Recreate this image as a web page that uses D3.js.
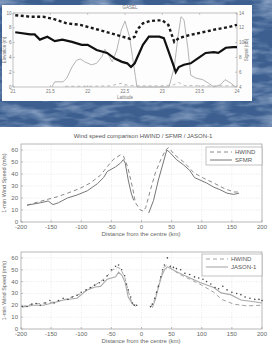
<!DOCTYPE html>
<html>
<head>
<meta charset="utf-8">
<script src="https://cdn.jsdelivr.net/npm/d3@7"></script>
<style>
  body { margin: 0; background: #fff; }
  svg { display: block; font-family: "Liberation Sans", Arial, sans-serif; }
</style>
</head>
<body>
<div id="chart"></div>
<script>
// ---- top panel (altimeter track) ----
const topTitle = "GASEL";
const latTicks = [21, 21.5, 22, 22.5, 23, 23.5, 24];
const elevTicks = [0, 2, 4, 6, 8, 10];
const sigTicks = [4, 6, 8, 10, 12, 14];

// thick solid black
const elevLat = [21.03, 21.23, 21.29, 21.36, 21.46, 21.56, 21.66, 21.79, 21.92, 22.0, 22.12, 22.26, 22.37, 22.46, 22.53, 22.58, 22.63, 22.74, 22.82, 22.96, 23.02, 23.09, 23.14, 23.18, 23.22, 23.29, 23.38, 23.48, 23.58, 23.69, 23.75, 23.85, 23.95, 24.0];
const elevVal = [7.4, 7.1, 7.1, 6.4, 6.8, 6.2, 6.4, 6.1, 5.7, 5.7, 5.0, 4.6, 3.8, 3.4, 3.2, 2.7, 3.2, 5.7, 6.8, 6.8, 6.6, 4.6, 3.2, 2.0, 2.7, 3.0, 3.2, 3.9, 4.6, 4.7, 4.6, 5.3, 5.4, 5.4];

// thick dashed black
const dashLat = [21.03, 21.23, 21.4, 21.54, 21.72, 21.9, 22.12, 22.3, 22.43, 22.57, 22.63, 22.66, 22.74, 22.83, 22.93, 23.0, 23.08, 23.16, 23.22, 23.36, 23.54, 23.72, 23.89, 24.0];
const dashVal = [9.7, 9.5, 9.5, 9.2, 8.6, 8.4, 7.8, 7.3, 6.9, 6.5, 6.8, 7.7, 8.6, 8.9, 9.0, 9.0, 8.4, 6.1, 6.6, 7.0, 7.4, 7.8, 8.1, 8.4];

// thin grey signal
const sigLat = [21.52, 21.56, 21.67, 21.72, 21.79, 21.85, 21.9, 21.96, 22.05, 22.12, 22.19, 22.23, 22.28, 22.33, 22.39, 22.45, 22.5, 22.56, 22.6, 22.64, 22.66, 23.09, 23.16, 23.21, 23.25, 23.29, 23.34, 23.38, 23.45, 23.54, 23.62, 23.69, 23.78, 23.84, 23.92, 23.98];
const sigVal = [0, 0.7, 0.7, 1.2, 2.7, 3.6, 3.8, 3.4, 3.0, 3.2, 4.1, 5.1, 4.3, 3.4, 5.0, 7.7, 8.9, 6.8, 4.1, 1.4, 0, 0, 2.7, 6.8, 9.5, 9.1, 5.4, 1.6, 1.2, 1.0, 0.5, 0, 0.3, 1.0, 0.5, 0];

// thin grey dashed near zero
const lowLat = [21.7, 22.0, 22.3, 22.45, 22.55, 22.7, 23.0, 23.15, 23.22, 23.3, 23.6, 24.0];
const lowVal = [0.1, 0.1, 0.15, 0.5, 0.2, 0.15, 0.15, 0.3, 0.6, 0.2, 0.15, 0.15];

// ---- lower panels (wind speed profiles) ----
const distTicks = [-200, -150, -100, -50, 0, 50, 100, 150, 200];
const speedTicks = [0, 10, 20, 30, 40, 50, 60];

const hwindA = [
  [-190, 14], [-173, 16.5], [-155, 19], [-140, 21], [-123, 24], [-102, 28], [-85, 32.5], [-68, 39], [-57, 46], [-47, 52], [-35, 56], [-30, 55],
  [-23, 46], [-15, 29], [-10, 16], [-2, 10], [3, 9], [7, 12], [15, 27], [23, 41], [32, 52], [40, 60], [45, 62], [55, 56], [70, 50], [87, 41], [103, 36.5], [120, 32.5], [137, 28], [153, 25], [162, 25]
];
const sfmr = [
  [-190, 14], [-168, 16], [-155, 17.5], [-147, 14.5], [-138, 16], [-123, 20], [-107, 22.5], [-90, 26], [-73, 32], [-63, 37], [-57, 42], [-43, 46], [-35, 49], [-30, 52], [-27, 49], [-22, 35], [-17, 24], [-13, 18],
  null,
  [12, 7.5], [20, 18], [28, 35], [35, 47.5], [42, 60], [47, 58], [58, 52], [70, 47.5], [80, 43], [88, 37], [97, 35], [108, 32.5], [120, 29], [130, 27], [142, 24], [153, 23], [162, 24]
];

const hwindB = [
  [-198, 19], [-180, 21], [-160, 22], [-140, 23], [-120, 26], [-100, 30], [-80, 36], [-60, 43], [-48, 50], [-40, 52], [-35, 51], [-28, 44], [-22, 32], [-16, 22], [-10, 19],
  null,
  [15, 18], [22, 25], [30, 40], [37, 52], [42, 54], [50, 51], [60, 47], [80, 42], [100, 37], [120, 31], [133, 25], [153, 21], [175, 19.5], [197, 20]
];
const jason = [
  [-198, 18.5], [-180, 20], [-163, 20], [-148, 22], [-130, 24.5], [-107, 26], [-90, 33], [-77, 35.5], [-68, 36], [-57, 42], [-43, 44], [-38, 48], [-32, 45], [-27, 39], [-22, 27], [-15, 21], [-10, 20],
  null,
  [18, 18], [23, 25], [28, 35], [33, 44], [38, 50], [43, 52.5], [60, 48], [77, 44], [98, 39], [120, 35], [132, 30.5], [148, 29], [165, 24.5], [187, 23], [200, 22]
];
const altDots = [
  [-198, 19], [-190, 19], [-182, 21], [-175, 21.5], [-168, 20], [-160, 22], [-152, 24], [-145, 22], [-138, 24], [-130, 26], [-122, 25], [-115, 27], [-107, 28.5], [-100, 31], [-92, 33], [-85, 35], [-78, 37], [-70, 39], [-63, 41], [-57, 45], [-50, 50], [-43, 53], [-38, 54], [-33, 50], [-28, 45], [-25, 38], [-22, 33], [-18, 27], [-15, 22], [-12, 20], [-8, 20],
  [15, 19], [18, 21], [22, 26], [25, 31], [28, 36], [32, 44], [35, 50], [38, 54], [43, 60], [48, 53], [53, 52], [58, 51], [65, 50], [72, 47], [80, 46], [88, 44], [95, 43], [102, 42], [108, 40], [115, 38], [122, 35], [128, 34], [135, 36], [142, 33], [150, 31], [158, 30], [165, 29], [172, 27], [180, 26], [188, 25], [195, 25], [200, 24]
];

const W = 272, H = 345;
const svg = d3.select("#chart").append("svg").attr("width", W).attr("height", H);

// blue slide background with a streaky texture
const defs = svg.append("defs");
const f = defs.append("filter").attr("id", "streak").attr("x", 0).attr("y", 0).attr("width", 1).attr("height", 1);
f.append("feTurbulence").attr("type", "fractalNoise").attr("baseFrequency", "0.035 0.12").attr("numOctaves", 3).attr("seed", 4);
f.append("feColorMatrix").attr("type", "matrix")
  .attr("values", "0 0 0 0 0.8  0 0 0 0 0.88  0 0 0 0 1  1.1 0 0 0 -0.45");
svg.append("rect").attr("width", W).attr("height", 127).attr("fill", "#3c5f90");
svg.append("rect").attr("width", W).attr("height", 127).attr("filter", "url(#streak)");

// ---- top panel ----
svg.append("rect").attr("x", 2).attr("y", 5).attr("width", 250).attr("height", 96).attr("fill", "#fdfdfd");
const tx = d3.scaleLinear().domain([21, 24]).range([13, 237]);
const ty = d3.scaleLinear().domain([0, 10]).range([87, 13]);
const ty2 = d3.scaleLinear().domain([4, 14]).range([87, 13]);
const topG = svg.append("g");

topG.append("rect").attr("x", 13).attr("y", 13).attr("width", 224).attr("height", 74)
  .attr("fill", "none").attr("stroke", "#999").attr("stroke-width", 0.6);
latTicks.forEach(t => {
  topG.append("line").attr("x1", tx(t)).attr("x2", tx(t)).attr("y1", 87).attr("y2", 85).attr("stroke", "#999").attr("stroke-width", 0.5);
  topG.append("line").attr("x1", tx(t)).attr("x2", tx(t)).attr("y1", 13).attr("y2", 15).attr("stroke", "#999").attr("stroke-width", 0.5);
  topG.append("text").attr("x", tx(t)).attr("y", 93).attr("text-anchor", "middle")
    .attr("font-size", 4.5).attr("fill", "#777").text(t);
});
elevTicks.forEach(t => {
  topG.append("line").attr("x1", 13).attr("x2", 15).attr("y1", ty(t)).attr("y2", ty(t)).attr("stroke", "#999").attr("stroke-width", 0.5);
  topG.append("text").attr("x", 11.5).attr("y", ty(t) + 1.5).attr("text-anchor", "end")
    .attr("font-size", 4.5).attr("fill", "#777").text(t);
});
sigTicks.forEach(t => {
  topG.append("line").attr("x1", 235).attr("x2", 237).attr("y1", ty2(t)).attr("y2", ty2(t)).attr("stroke", "#999").attr("stroke-width", 0.5);
  topG.append("text").attr("x", 239).attr("y", ty2(t) + 1.5)
    .attr("font-size", 4.5).attr("fill", "#777").text(t);
});
topG.append("text").attr("x", 130).attr("y", 8.5).attr("text-anchor", "middle").attr("font-size", 4.5).attr("fill", "#777").text(topTitle);
topG.append("text").attr("x", 125).attr("y", 99).attr("text-anchor", "middle").attr("font-size", 4.5).attr("fill", "#777").text("Latitude");
topG.append("text").attr("transform", "translate(5.5,50) rotate(-90)").attr("text-anchor", "middle").attr("font-size", 4.5).attr("fill", "#777").text("Elevation (m)");
topG.append("text").attr("transform", "translate(248,50) rotate(-90)").attr("text-anchor", "middle").attr("font-size", 4.5).attr("fill", "#777").text("Signal (dB)");

const topLine = d3.line().x(d => tx(d[0])).y(d => ty(d[1]));
topG.append("path").datum(d3.zip(sigLat, sigVal)).attr("d", topLine)
  .attr("fill", "none").attr("stroke", "#b4b4b4").attr("stroke-width", 1);
topG.append("path").datum(d3.zip(lowLat, lowVal)).attr("d", topLine)
  .attr("fill", "none").attr("stroke", "#aaa").attr("stroke-width", 0.8).attr("stroke-dasharray", "3,3");
topG.append("path").datum(d3.zip(dashLat, dashVal)).attr("d", topLine)
  .attr("fill", "none").attr("stroke", "#1a1a1a").attr("stroke-width", 2.4).attr("stroke-dasharray", "3,2.5");
topG.append("path").datum(d3.zip(elevLat, elevVal)).attr("d", topLine)
  .attr("fill", "none").attr("stroke", "#111").attr("stroke-width", 2.2);

// ---- wind speed panels ----
function windPanel(g, y0, y1, title, series, legend, dots) {
  const x = d3.scaleLinear().domain([-200, 200]).range([21, 262]);
  const y = d3.scaleLinear().domain([0, 65]).range([y1, y0]);
  const grid = "#d4d4d4";

  distTicks.forEach(t => {
    if (t > -200 && t < 200)
      g.append("line").attr("x1", x(t)).attr("x2", x(t)).attr("y1", y0).attr("y2", y1)
        .attr("stroke", grid).attr("stroke-width", 0.5).attr("stroke-dasharray", "1,1.5");
    g.append("line").attr("x1", x(t)).attr("x2", x(t)).attr("y1", y1).attr("y2", y1 - 2).attr("stroke", "#888").attr("stroke-width", 0.5);
    g.append("text").attr("x", x(t)).attr("y", y1 + 6.5).attr("text-anchor", "middle")
      .attr("font-size", 6).attr("fill", "#666").text(t);
  });
  speedTicks.forEach(t => {
    if (t > 0)
      g.append("line").attr("x1", x(-200)).attr("x2", x(200)).attr("y1", y(t)).attr("y2", y(t))
        .attr("stroke", grid).attr("stroke-width", 0.5).attr("stroke-dasharray", "1,1.5");
    g.append("line").attr("x1", x(-200)).attr("x2", x(-200) + 2).attr("y1", y(t)).attr("y2", y(t)).attr("stroke", "#888").attr("stroke-width", 0.5);
    g.append("text").attr("x", 18).attr("y", y(t) + 2).attr("text-anchor", "end")
      .attr("font-size", 6).attr("fill", "#666").text(t);
  });
  g.append("rect").attr("x", x(-200)).attr("y", y0).attr("width", x(200) - x(-200)).attr("height", y1 - y0)
    .attr("fill", "none").attr("stroke", "#999").attr("stroke-width", 0.7);

  if (title)
    g.append("text").attr("x", 143).attr("y", y0 - 6).attr("text-anchor", "middle")
      .attr("font-size", 6).attr("fill", "#555").text(title);
  g.append("text").attr("x", 141).attr("y", y1 + 14).attr("text-anchor", "middle")
    .attr("font-size", 6).attr("fill", "#666").text("Distance from the centre (km)");
  g.append("text").attr("transform", `translate(6,${(y0 + y1) / 2}) rotate(-90)`).attr("text-anchor", "middle")
    .attr("font-size", 5.5).attr("fill", "#666").text("1-min Wind Speed (m/s)");

  const line = d3.line().defined(d => d !== null).x(d => x(d[0])).y(d => y(d[1]));
  series.forEach(s => {
    g.append("path").datum(s.data).attr("d", line).attr("fill", "none")
      .attr("stroke", s.color).attr("stroke-width", s.width).attr("stroke-dasharray", s.dash);
  });
  if (dots) {
    g.append("g").selectAll("circle").data(dots).join("circle")
      .attr("cx", d => x(d[0])).attr("cy", d => y(d[1])).attr("r", 0.8).attr("fill", "#444");
  }

  const lg = g.append("g");
  lg.append("rect").attr("x", legend.x).attr("y", legend.y).attr("width", legend.w).attr("height", legend.h)
    .attr("fill", "#fff").attr("stroke", "#999").attr("stroke-width", 0.6);
  series.forEach((s, i) => {
    const ly = legend.y + 5 + i * 8;
    lg.append("line").attr("x1", legend.x + 4).attr("x2", legend.x + 26).attr("y1", ly).attr("y2", ly)
      .attr("stroke", s.color).attr("stroke-width", s.width).attr("stroke-dasharray", s.dash);
    lg.append("text").attr("x", legend.x + 29).attr("y", ly + 2).attr("font-size", 6).attr("fill", "#555").text(s.name);
  });
}

windPanel(svg.append("g"), 144, 222, "Wind speed comparison HWIND / SFMR / JASON-1",
  [
    { name: "HWIND", data: hwindA, color: "#8a8a8a", width: 1, dash: "4,3" },
    { name: "SFMR", data: sfmr, color: "#777", width: 1, dash: null }
  ],
  { x: 206, y: 147, w: 56, h: 18 }, null);

windPanel(svg.append("g"), 252, 329, null,
  [
    { name: "HWIND", data: hwindB, color: "#999", width: 0.9, dash: "4,3" },
    { name: "JASON-1", data: jason, color: "#aaa", width: 1.1, dash: null }
  ],
  { x: 202, y: 254, w: 60, h: 22 }, altDots);
</script>
</body>
</html>
